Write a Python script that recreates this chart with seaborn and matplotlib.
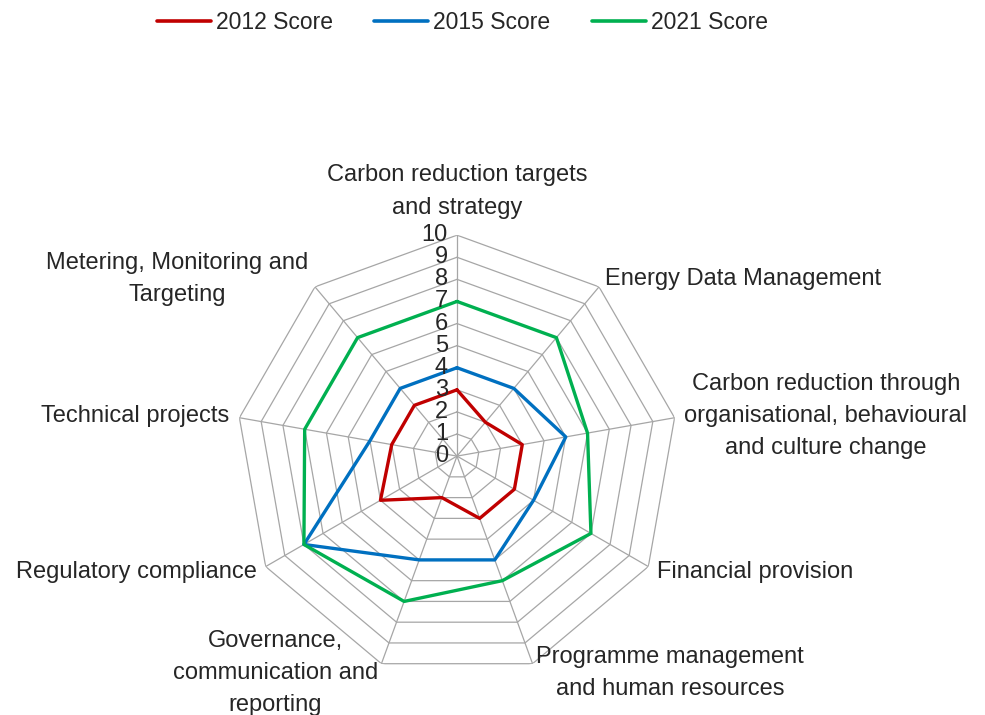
import numpy as np
import pandas as pd
import seaborn as sns
import matplotlib
matplotlib.use("Agg")
import matplotlib.pyplot as plt
from matplotlib.transforms import offset_copy
from matplotlib.lines import Line2D

categories = [
    "Carbon reduction targets\nand strategy",
    "Energy Data Management",
    "Carbon reduction through\norganisational, behavioural\nand culture change",
    "Financial provision",
    "Programme management\nand human resources",
    "Governance,\ncommunication and\nreporting",
    "Regulatory compliance",
    "Technical projects",
    "Metering, Monitoring and\nTargeting",
]
score_2012 = [3, 2, 3, 3, 3, 2, 4, 3, 3]
score_2015 = [4, 4, 5, 4, 5, 5, 8, 4, 4]
score_2021 = [7, 7, 6, 7, 6, 7, 8, 7, 7]
series_names = ["2012 Score", "2015 Score", "2021 Score"]
colours = ["#C00000", "#0070C0", "#00B050"]
ring_values = list(range(0, 11))

sns.set_theme(style="white")
plt.rcParams["font.family"] = ["Liberation Sans", "DejaVu Sans"]

n = len(categories)
theta = np.arange(n) * 2 * np.pi / n
theta_closed = np.append(theta, theta[0])

rows = []
for name, vals in zip(series_names, [score_2012, score_2015, score_2021]):
    closed = list(vals) + [vals[0]]
    for t, v in zip(theta_closed, closed):
        rows.append({"theta": t, "score": v, "series": name})
df = pd.DataFrame(rows)

fig = plt.figure(figsize=(9.85, 7.15), dpi=100)
ax = fig.add_axes([0.2396, 0.0531, 0.4487, 0.618], projection="polar")
ax.set_theta_zero_location("N")
ax.set_theta_direction(-1)

# polygon grid like Excel
grid_col = "#A6A6A6"
for k in ring_values[1:]:
    ax.plot(theta_closed, [k] * (n + 1), color=grid_col, lw=0.9, zorder=1)
for t in theta:
    ax.plot([t, t], [0, 10], color=grid_col, lw=0.9, zorder=1)

sns.lineplot(data=df, x="theta", y="score", hue="series", palette=colours,
             sort=False, estimator=None, lw=2.4, ax=ax, zorder=3, legend=False)

ax.set_ylim(0, 10)
ax.grid(False)
ax.spines["polar"].set_visible(False)
ax.set_xticks([])
ax.set_yticks([])
ax.set_xlabel("")
ax.set_ylabel("")

# radial tick labels
tick_tr = offset_copy(ax.transData, fig=fig, x=-9, y=0, units="dots")
for k in ring_values:
    ax.text(0, k, str(k), transform=tick_tr, ha="right", va="center",
            fontsize=17, color="#262626", zorder=4)

# category labels
for i, (t, lab) in enumerate(zip(theta, categories)):
    deg = np.degrees(t)
    if i == 0:
        ax.text(t, 10.75, lab, ha="center", va="bottom", fontsize=17,
                color="#262626", multialignment="center", linespacing=1.6)
        continue
    ha = "left" if deg < 180 else "right"
    ax.text(t, 10.45, lab, ha=ha, va="center", fontsize=17,
            color="#262626", multialignment="center", linespacing=1.6)

handles = [Line2D([], [], color=c, lw=2.6) for c in colours]
fig.legend(handles, series_names, loc="upper center", bbox_to_anchor=(0.4695, 1.013),
           ncol=3, frameon=False, fontsize=16.5, handlelength=2.35,
           columnspacing=1.8, handletextpad=0.22)

fig.savefig("out.png", dpi=100)
